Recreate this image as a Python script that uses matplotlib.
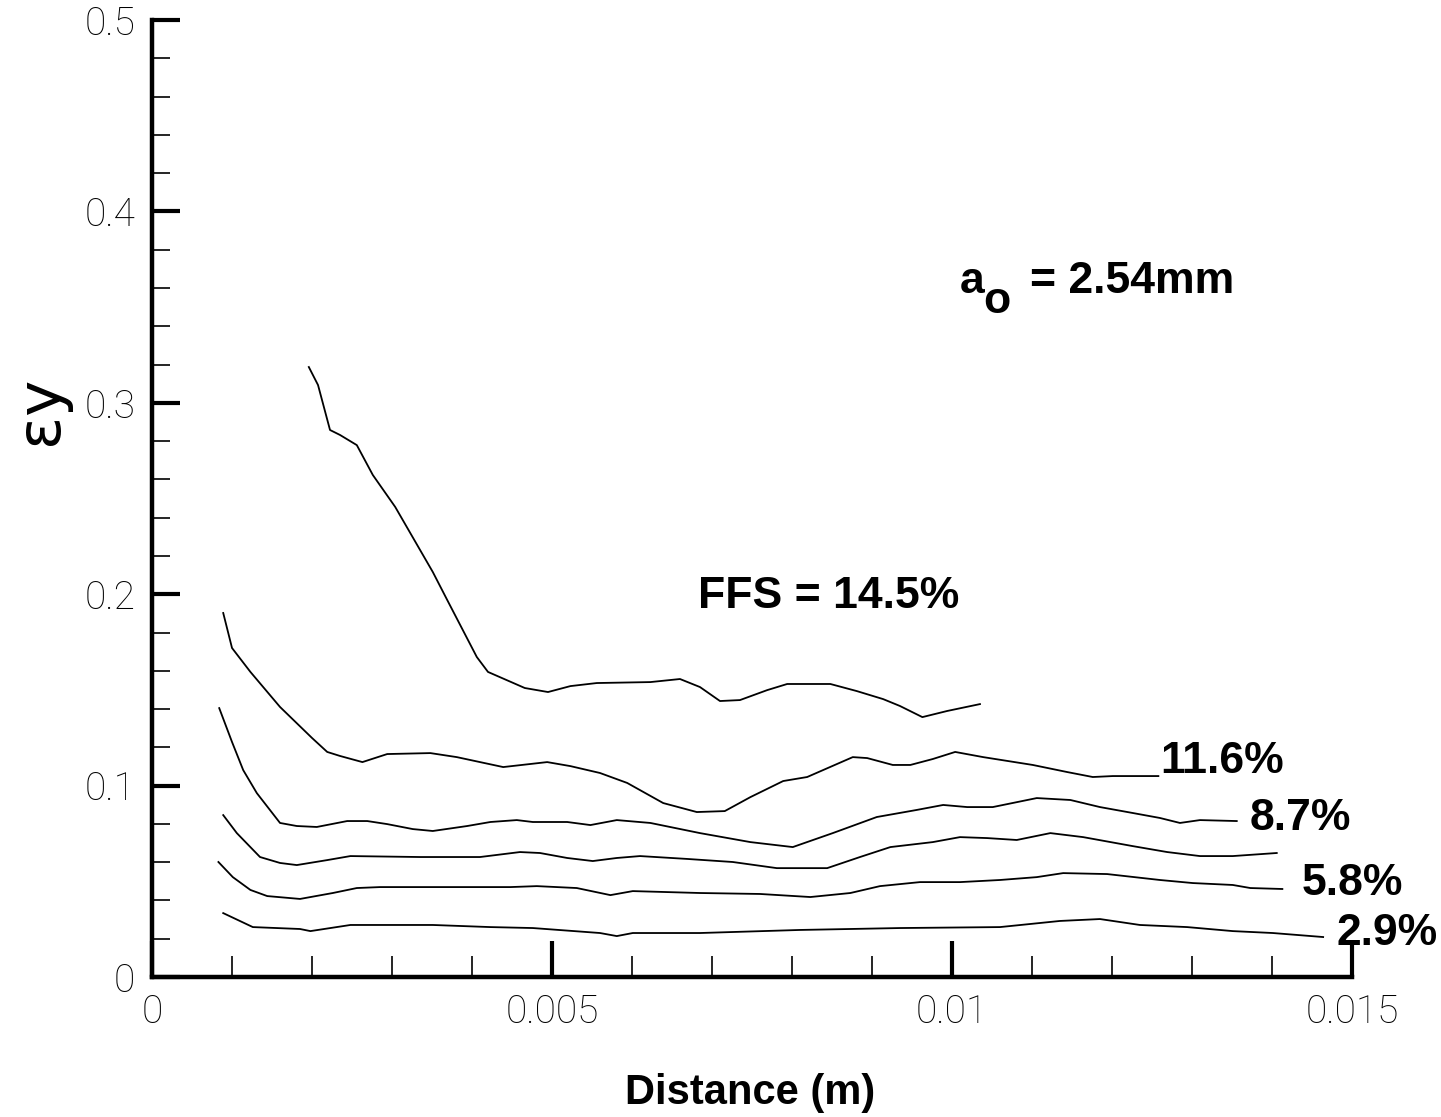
import numpy as np
import matplotlib
matplotlib.use("Agg")
import matplotlib.pyplot as plt
from matplotlib.ticker import MultipleLocator, FixedLocator

# curves: distance (m) vs strain, one per FFS level
x_145 = [0.00196, 0.002075, 0.002225, 0.00235, 0.00256, 0.00276, 0.00304, 0.00351, 0.00369,
         0.00406, 0.0042, 0.00466, 0.00495, 0.00523, 0.00556, 0.00623, 0.0066, 0.00685, 0.0071,
         0.00735, 0.00769, 0.00794, 0.00848, 0.00881, 0.00914, 0.00935, 0.00963, 0.00994, 0.01035]
y_145 = [0.3187, 0.3093, 0.2858, 0.2832, 0.2779, 0.2623, 0.2456, 0.2116, 0.1970,
         0.1672, 0.1594, 0.1510, 0.1489, 0.1520, 0.1536, 0.1541, 0.1557, 0.1515, 0.1442,
         0.1447, 0.1499, 0.1531, 0.1531, 0.1494, 0.1452, 0.1416, 0.1358, 0.1390, 0.1426]

x_116 = [0.00089, 0.001, 0.00123, 0.0016, 0.002, 0.00219, 0.00235, 0.00263, 0.00294, 0.00348,
         0.00381, 0.00439, 0.00494, 0.00523, 0.0056, 0.00594, 0.00639, 0.00681, 0.00716, 0.00748,
         0.00789, 0.00819, 0.00876, 0.00894, 0.00926, 0.00948, 0.00976, 0.01004, 0.01039, 0.01101,
         0.01144, 0.01176, 0.01201, 0.01258]
y_116 = [0.1902, 0.1719, 0.1594, 0.1411, 0.1249, 0.1176, 0.1155, 0.1123, 0.1165, 0.1170,
         0.1149, 0.1097, 0.1123, 0.1102, 0.1066, 0.1014, 0.0909, 0.0862, 0.0867, 0.0940,
         0.1024, 0.1045, 0.1149, 0.1144, 0.1108, 0.1108, 0.1139, 0.1176, 0.1149, 0.1108,
         0.1071, 0.1045, 0.1050, 0.1050]

x_87 = [0.00084, 0.001, 0.00114, 0.00131, 0.0016, 0.00181, 0.00206, 0.00244, 0.00269, 0.00294,
        0.00326, 0.00351, 0.00394, 0.00423, 0.00456, 0.00476, 0.00519, 0.00548, 0.00581, 0.00623,
        0.00685, 0.00748, 0.00801, 0.00851, 0.00906, 0.00956, 0.00989, 0.01019, 0.01051, 0.01106,
        0.01148, 0.01185, 0.01226, 0.0126, 0.01285, 0.0131, 0.01356]
y_87 = [0.1405, 0.1228, 0.1081, 0.0961, 0.0805, 0.0789, 0.0784, 0.0815, 0.0815, 0.0799,
        0.0773, 0.0763, 0.0789, 0.0810, 0.0820, 0.0810, 0.0810, 0.0794, 0.0820, 0.0805,
        0.0752, 0.0705, 0.0679, 0.0752, 0.0836, 0.0873, 0.0899, 0.0888, 0.0888, 0.0935,
        0.0925, 0.0888, 0.0857, 0.0831, 0.0805, 0.0820, 0.0815]

x_mid = [0.00089, 0.00106, 0.00135, 0.0016, 0.00181, 0.00219, 0.00248, 0.00335, 0.0041, 0.0046,
         0.00485, 0.00519, 0.00551, 0.00581, 0.0061, 0.00669, 0.00726, 0.00781, 0.00844, 0.00885,
         0.00923, 0.00976, 0.0101, 0.01044, 0.01081, 0.01123, 0.01164, 0.01226, 0.01269, 0.0131,
         0.01351, 0.01406]
y_mid = [0.0846, 0.0752, 0.0627, 0.0596, 0.0585, 0.0611, 0.0632, 0.0627, 0.0627, 0.0653,
         0.0648, 0.0622, 0.0606, 0.0622, 0.0632, 0.0617, 0.0601, 0.0569, 0.0569, 0.0627,
         0.0679, 0.0705, 0.0731, 0.0726, 0.0716, 0.0752, 0.0731, 0.0684, 0.0653, 0.0632,
         0.0632, 0.0648]

x_58 = [0.00083, 0.00101, 0.00123, 0.00144, 0.00185, 0.00226, 0.00256, 0.00285, 0.00448, 0.00481,
        0.00531, 0.00573, 0.00601, 0.00685, 0.0076, 0.00823, 0.00873, 0.0091, 0.0096, 0.0101,
        0.0106, 0.01106, 0.01139, 0.01194, 0.0126, 0.01301, 0.01351, 0.01373, 0.01413]
y_58 = [0.0601, 0.0522, 0.0455, 0.0423, 0.0408, 0.0439, 0.0465, 0.0470, 0.0470, 0.0475,
        0.0465, 0.0428, 0.0449, 0.0439, 0.0434, 0.0418, 0.0439, 0.0475, 0.0496, 0.0496,
        0.0507, 0.0522, 0.0543, 0.0538, 0.0507, 0.0491, 0.0481, 0.0465, 0.0460]

x_29 = [0.00089, 0.00126, 0.00185, 0.00198, 0.00248, 0.00351, 0.00423, 0.00476, 0.0056, 0.00581,
        0.00601, 0.00685, 0.0081, 0.00935, 0.0106, 0.01135, 0.01185, 0.01235, 0.01294, 0.01351,
        0.01401, 0.01464]
y_29 = [0.0334, 0.0261, 0.0251, 0.0240, 0.0272, 0.0272, 0.0261, 0.0256, 0.0230, 0.0214,
        0.0230, 0.0230, 0.0246, 0.0256, 0.0261, 0.0293, 0.0303, 0.0272, 0.0261, 0.0240,
        0.0230, 0.0209]

x_ticks = [0, 0.005, 0.01, 0.015]
x_ticklabels = ["0", "0.005", "0.01", "0.015"]
y_ticks = [0, 0.1, 0.2, 0.3, 0.4, 0.5]
y_ticklabels = ["0", "0.1", "0.2", "0.3", "0.4", "0.5"]

fig = plt.figure(figsize=(14.41, 11.17), dpi=100)
ax = fig.add_axes([0.1055, 0.1253, 0.8327, 0.8568])

for xs, ys in [(x_145, y_145), (x_116, y_116), (x_87, y_87),
               (x_mid, y_mid), (x_58, y_58), (x_29, y_29)]:
    ax.plot(xs, ys, color="black", lw=1.3)

ax.set_xlim(0, 0.015)
ax.set_ylim(0, 0.5)

ax.spines["top"].set_visible(False)
ax.spines["right"].set_visible(False)
ax.spines["left"].set_linewidth(3.2)
ax.spines["bottom"].set_linewidth(3.2)

ax.xaxis.set_major_locator(FixedLocator(x_ticks))
ax.yaxis.set_major_locator(FixedLocator(y_ticks))
ax.xaxis.set_minor_locator(MultipleLocator(0.001))
ax.yaxis.set_minor_locator(MultipleLocator(0.02))
ax.set_xticklabels(x_ticklabels)
ax.set_yticklabels(y_ticklabels)

ax.tick_params(which="major", direction="in", length=20, width=3, pad=12)
ax.tick_params(axis="x", which="major", length=26)
ax.tick_params(which="minor", direction="in", length=13, width=1.2)
ax.tick_params(axis="x", which="minor", length=15)
for lab in ax.get_xticklabels() + ax.get_yticklabels():
    lab.set_fontfamily(["Roboto", "Liberation Sans"])
    lab.set_fontweight("light")
    lab.set_fontsize(28)

fig.text(750 / 1441, 1 - 1093 / 1117, "Distance (m)", fontsize=30, fontweight="bold",
         family="Liberation Sans", ha="center", va="center")
fig.text(40 / 1441, 1 - 410 / 1117, "\u03b5y", fontsize=44, family="DejaVu Sans",
         rotation=90, ha="center", va="center")

bold = dict(fontsize=32, fontweight="bold", family="Liberation Sans", va="baseline")
ax.text(0.006825, 0.1928, "FFS = 14.5%", **bold)
ax.text(0.0126, 0.1066, "11.6%", **bold)
ax.text(0.013725, 0.0768, "8.7%", **bold)
ax.text(0.014375, 0.0428, "5.8%", **bold)
ax.text(0.01481, 0.0167, "2.9%", **bold)
ax.text(0.0101, 0.3574, "a", **bold)
ax.text(0.01039, 0.3469, "o", **bold)
ax.text(0.01098, 0.3574, "= 2.54mm", **bold)

fig.savefig("out.png", dpi=100, facecolor="white")
